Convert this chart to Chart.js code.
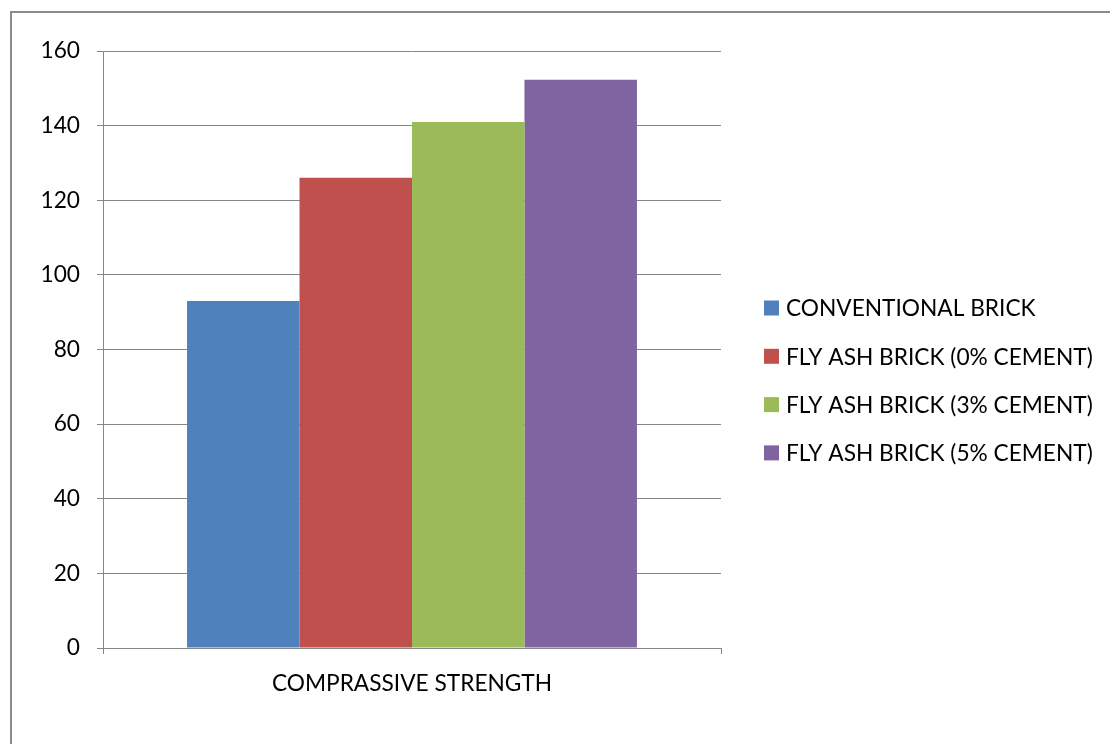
<!DOCTYPE html>
<html><head><meta charset="utf-8">
<script src="https://cdn.jsdelivr.net/npm/chart.js@4.4.1/dist/chart.umd.min.js"></script>
<style>
html,body{margin:0;padding:0;background:#fff;overflow:hidden}
#wrap{position:relative;width:1110px;height:744px;overflow:hidden}
#frame{position:absolute;left:10px;top:11px;width:1200px;height:800px;border-left:2px solid #8c8c8c;border-top:2px solid #8c8c8c}
canvas{position:absolute;left:0;top:0}
</style></head><body>
<div id="wrap"><div id="frame"></div><canvas id="c" width="1110" height="744"></canvas></div>
<script>
// ---- data ----
const categories = ['COMPRASSIVE STRENGTH'];
const seriesNames = ['CONVENTIONAL BRICK', 'FLY ASH BRICK (0% CEMENT)', 'FLY ASH BRICK (3% CEMENT)', 'FLY ASH BRICK (5% CEMENT)'];
const conventionalBrick = [93];
const flyAsh0Cement = [126];
const flyAsh3Cement = [141];
const flyAsh5Cement = [152.3];
const yMin = 0, yMax = 160, yStep = 20;

// ---- styles ----
const seriesColors = ['#4F81BD', '#C0504D', '#9BBB59', '#8064A2'];
const FONT = 'Lato';
const FS = 22.7;
const GRID = '#868686';

const seriesValues = [conventionalBrick, flyAsh0Cement, flyAsh3Cement, flyAsh5Cement];

// legend drawn from the chart's own datasets
const sideLegend = {
  id: 'sideLegend',
  afterDraw(chart) {
    const ctx = chart.ctx;
    const boxX = 764, box = 15, textX = 786, y0 = 308, step = 48.3;
    ctx.save();
    ctx.font = FS + 'px ' + FONT;
    ctx.textBaseline = 'middle';
    ctx.textAlign = 'left';
    chart.data.datasets.forEach((ds, i) => {
      const y = y0 + i * step;
      ctx.fillStyle = ds.backgroundColor;
      ctx.fillRect(boxX, y - box / 2, box, box);
      ctx.fillStyle = '#000';
      ctx.fillText(ds.label, textX, y + 1);
    });
    ctx.restore();
  }
};

new Chart(document.getElementById('c'), {
  type: 'bar',
  data: {
    labels: categories,
    datasets: seriesNames.map((n, i) => ({
      label: n,
      data: seriesValues[i],
      backgroundColor: seriesColors[i],
      borderWidth: 0,
      barPercentage: 1,
      categoryPercentage: 0.728
    }))
  },
  plugins: [sideLegend],
  options: {
    responsive: false,
    devicePixelRatio: 1,
    animation: false,
    layout: { padding: { left: 0, top: 51, right: 389, bottom: 0 } },
    plugins: {
      tooltip: { enabled: false },
      legend: { display: false }
    },
    scales: {
      x: {
        offset: true,
        grid: { display: true, offset: true, drawOnChartArea: false, drawTicks: true, tickLength: 6, color: GRID, lineWidth: 1 },
        border: { display: true, color: GRID, width: 1 },
        ticks: { color: '#000', font: { family: FONT, size: FS }, padding: 16, maxRotation: 0 },
        afterFit: s => { s.height = 96; }
      },
      y: {
        min: yMin, max: yMax,
        grid: { color: GRID, lineWidth: 1, tickLength: 6 },
        border: { display: true, color: GRID, width: 1 },
        ticks: { stepSize: yStep, color: '#000', font: { family: FONT, size: FS }, padding: 17 },
        afterFit: s => { s.width = 103; }
      }
    }
  }
});
</script>
</body></html>
